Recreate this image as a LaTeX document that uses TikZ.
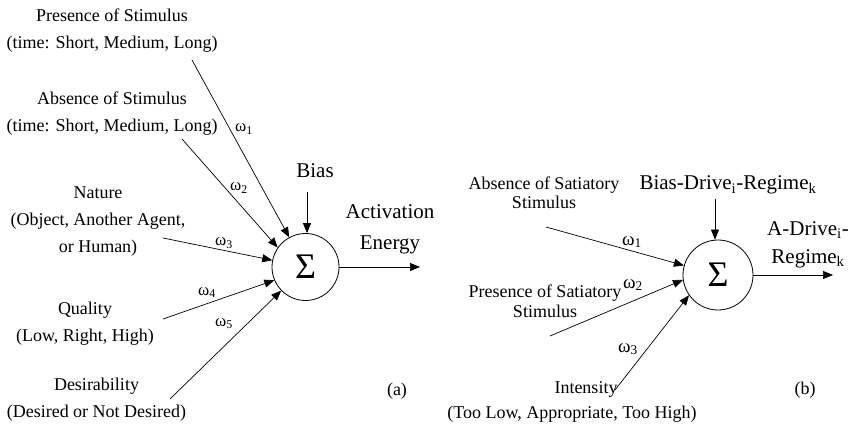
\documentclass[tikz,border=0pt]{standalone}
\usepackage{fontspec}
\setmainfont{Liberation Serif}
\usetikzlibrary{arrows.meta}
\begin{document}
\begin{tikzpicture}[x=1pt,y=-1pt,
  lbl/.style={align=center,inner sep=0pt,anchor=base,font=\fontsize{18}{27}\selectfont},
  lblb/.style={align=center,inner sep=0pt,anchor=base,font=\fontsize{18}{20}\selectfont},
  big/.style={align=center,inner sep=0pt,anchor=base,font=\fontsize{21}{31}\selectfont},
  bigb/.style={align=center,inner sep=0pt,anchor=base,font=\fontsize{21}{28}\selectfont},
  wt/.style={inner sep=0pt,anchor=base west,font=\fontsize{17}{17}\selectfont},
  wtb/.style={inner sep=0pt,anchor=base west,font=\fontsize{19}{19}\selectfont},
  sumnode/.style={circle,draw,line width=0.8pt,inner sep=0pt,font=\fontsize{36}{36}\selectfont},
  arr/.style={line width=0.7pt,-{Triangle[length=10pt,width=8pt]}}]
\useasboundingbox (0,0) rectangle (855,425);

% ---------------- panel (a)
\node[sumnode,minimum size=67pt] (sumA) at (305.5,267) {Σ};

\node[lbl] (pres) at (112,48.5) {Presence of Stimulus\\(time: Short, Medium, Long)};
\node[lbl] (abs)  at (112,131.5) {Absence of Stimulus\\(time: Short, Medium, Long)};
\node[lbl] (nat)  at (98,252) {Nature\\(Object, Another Agent,\\or Human)};
\node[lbl] (qual) at (85,341) {Quality\\(Low, Right, High)};
\node[lbl] (des)  at (96.5,417) {Desirability\\(Desired or Not Desired)};

\coordinate (s1) at (192,60);
\coordinate (s2) at (182,139);
\coordinate (s3) at (163,238);
\coordinate (s4) at (163,319);
\coordinate (s5) at (170,399);
\draw[arr] (s1) -- (sumA);
\draw[arr] (s2) -- (sumA.145);
\draw[arr] (s3) -- (sumA);
\draw[arr] (s4) -- (sumA.203);
\draw[arr] (s5) -- (sumA);

\node[wt] (w1) at (235,132) {ω\textsubscript{1}};
\node[wt] (w2) at (230,191) {ω\textsubscript{2}};
\node[wt] (w3) at (215,246) {ω\textsubscript{3}};
\node[wt] (w4) at (198,295) {ω\textsubscript{4}};
\node[wt] (w5) at (215,326) {ω\textsubscript{5}};

\node[big] (biasA) at (315,178) {Bias};
\coordinate (bA) at (307,192);
\draw[arr] (bA) -- (bA |- sumA.north);

\node[big] (actA) at (390,249) {Activation\\Energy};
\coordinate (oA) at (420,267);
\draw[arr] (sumA) -- (oA);

\node[lbl] (capA) at (397,395) {(a)};

% ---------------- panel (b)
\node[sumnode,minimum size=70pt] (sumB) at (718,275) {Σ};

\node[big] (biasB) at (728,190) {Bias-Drive\textsubscript{i}-Regime\textsubscript{k}};
\coordinate (bB) at (715,199);
\draw[arr] (bB) -- (bB |- sumB.north);

\node[bigb] (outB) at (808,263) {A-Drive\textsubscript{i}-\\Regime\textsubscript{k}};
\coordinate (oB) at (833,275);
\draw[arr] (sumB) -- (oB);

\node[lblb] (absB)  at (544,209) {Absence of Satiatory\\Stimulus};
\node[lblb] (presB) at (545,317) {Presence of Satiatory\\Stimulus};
\node[lblb] (intB)  at (586,393) {Intensity};
\node[lblb] (rngB)  at (572,418) {(Too Low, Appropriate, Too High)};

\coordinate (t1) at (546,227);
\coordinate (t2) at (550,336);
\coordinate (t3) at (615,390);
\draw[arr] (t1) -- (sumB);
\draw[arr] (t2) -- (sumB.188);
\draw[arr] (t3) -- (sumB.215);

\node[wtb] (v1) at (622,245) {ω\textsubscript{1}};
\node[wtb] (v2) at (623,288) {ω\textsubscript{2}};
\node[wtb] (v3) at (618,352) {ω\textsubscript{3}};

\node[lbl] (capB) at (805,394) {(b)};
\end{tikzpicture}
\end{document}
